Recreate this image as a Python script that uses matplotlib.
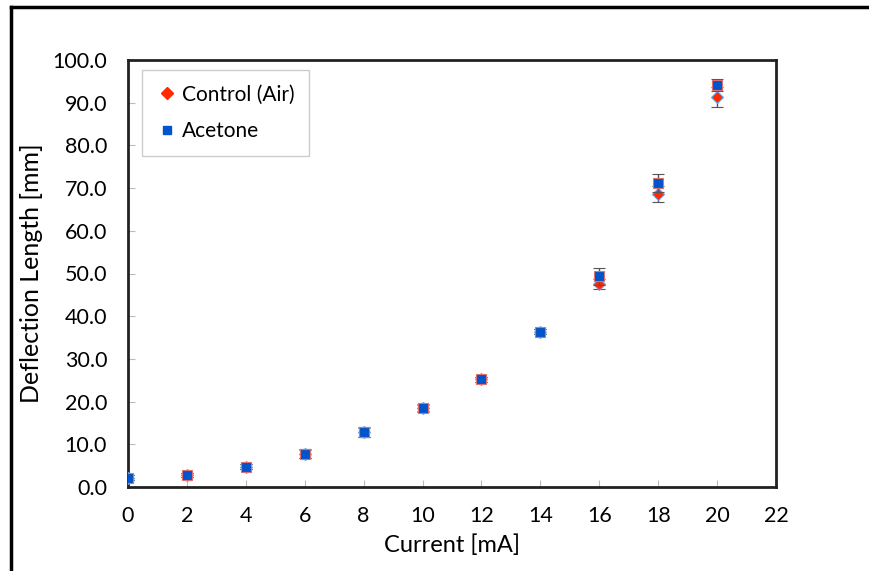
import numpy as np
import matplotlib.pyplot as plt
from matplotlib.lines import Line2D

# data
current = [0, 2, 4, 6, 8, 10, 12, 14, 16, 18, 20]
control = [2.2, 2.8, 4.7, 7.7, 12.8, 18.4, 25.2, 36.4, 47.5, 68.6, 91.3]
control_err = [0.5, 0.5, 0.6, 1.0, 1.0, 0.8, 0.6, 0.6, 1.2, 1.9, 2.3]
acetone = [2.2, 2.8, 4.7, 7.8, 12.9, 18.6, 25.2, 36.4, 49.3, 71.2, 94.1]
acetone_err = [0.5, 0.5, 0.6, 1.0, 1.1, 0.8, 0.6, 0.6, 2.0, 2.1, 1.4]

xticks = np.arange(0, 23, 2)
yticks = np.arange(0, 101, 10)

plt.rcParams['font.family'] = ['Lato', 'DejaVu Sans']

fig = plt.figure(figsize=(8.69, 5.71), dpi=100)
ax = fig.add_axes([128/869, 1 - 487/571, 648/869, 427/571])

red = '#ff2a00'
blue = '#0055cc'

ax.errorbar(current, control, yerr=control_err, fmt='D', ms=6,
            color=red, mfc=red, mec='#6fa0e0', mew=0.8,
            ecolor='#555555', elinewidth=1, capsize=4, capthick=1, zorder=3)
ax.errorbar(current, acetone, yerr=acetone_err, fmt='s', ms=7,
            color=blue, mfc=blue, mec='#e07070', mew=0.8,
            ecolor='#555555', elinewidth=1, capsize=4, capthick=1, zorder=4)

ax.set_xlim(0, 22)
ax.set_ylim(0, 100)
ax.set_xticks(xticks)
ax.set_yticks(yticks)
ax.set_yticklabels([f'{v:.1f}' for v in yticks])
ax.tick_params(direction='in', length=5, color='#bbbbbb', labelsize=15.5)
ax.tick_params(axis='y', pad=15)
ax.tick_params(axis='x', pad=14)
for s in ax.spines.values():
    s.set_linewidth(2)
    s.set_color('#222222')

ax.set_xlabel('Current [mA]', fontsize=17, labelpad=6)
ax.set_ylabel('Deflection Length [mm]', fontsize=18, labelpad=7)

handles = [Line2D([], [], ls='none', marker='D', ms=6, color=red),
           Line2D([], [], ls='none', marker='s', ms=6, color=blue)]
leg = ax.legend(handles, ['Control (Air)', 'Acetone'], loc='upper left',
                bbox_to_anchor=(0.022, 0.977), fontsize=15, fancybox=False,
                edgecolor='#cccccc', framealpha=1, handletextpad=0.2,
                handlelength=1.0, labelspacing=0.8, borderpad=0.7,
                borderaxespad=0)
leg.get_frame().set_linewidth(1)

# outer frame (left and top edges only visible)
fig.add_artist(Line2D([11/869, 11/869], [0, 1 - 7/571], color='black', lw=2.5,
                      transform=fig.transFigure))
fig.add_artist(Line2D([11/869, 1], [1 - 7/571, 1 - 7/571], color='black', lw=2.5,
                      transform=fig.transFigure))

fig.savefig('out.png', dpi=100)
